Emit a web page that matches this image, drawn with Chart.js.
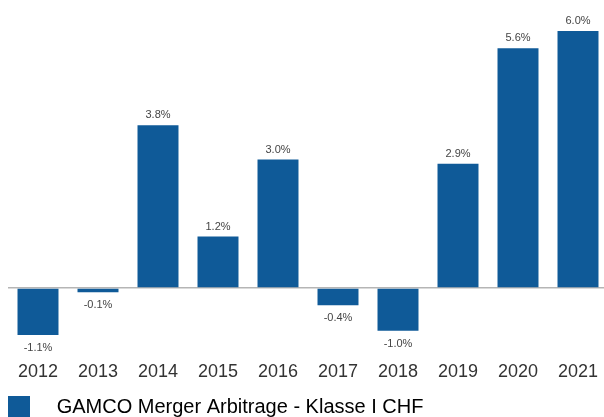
<!DOCTYPE html>
<html>
<head>
<meta charset="utf-8">
<script src="https://cdn.jsdelivr.net/npm/chart.js@4/dist/chart.umd.min.js"></script>
<style>
    html, body { margin: 0; padding: 0; background: #fff; overflow: hidden; }
    #wrap { width: 608px; height: 428px; }
</style>
</head>
<body>
<div id="wrap"><canvas id="perfChart" width="608" height="428"></canvas></div>
<script>
// GAMCO Merger Arbitrage - yearly returns (in %)

const years = ['2012', '2013', '2014', '2015', '2016', '2017', '2018', '2019', '2020', '2021'];
const returns = [-1.1, -0.1, 3.8, 1.2, 3.0, -0.4, -1.0, 2.9, 5.6, 6.0];
const seriesLabel = 'GAMCO Merger Arbitrage - Klasse I CHF';

const barColor = '#0f5a98';

// Draws the value text above (or below) each bar
const valueLabels = {
    id: 'valueLabels',
    afterDatasetsDraw(chart) {
        const ctx = chart.ctx;
        const meta = chart.getDatasetMeta(0);
        ctx.save();
        ctx.font = '11px "Liberation Sans", Arial, sans-serif';
        ctx.fillStyle = '#444';
        ctx.textAlign = 'center';
        ctx.textBaseline = 'alphabetic';
        meta.data.forEach((bar, i) => {
            const v = returns[i];
            const text = v.toFixed(1) + '%';
            if (v >= 0) {
                ctx.fillText(text, bar.x, bar.y - 7);
            } else {
                ctx.fillText(text, bar.x, bar.y + 16);
            }
        });
        ctx.restore();
    }
};

const ctx = document.getElementById('perfChart').getContext('2d');
const perfChart = new Chart(ctx, {
    type: 'bar',
    data: {
        labels: years,
        datasets: [{
            label: seriesLabel,
            data: returns,
            backgroundColor: barColor,
            borderWidth: 0,
            categoryPercentage: 1,
            barPercentage: 0.683
        }]
    },
    options: {
        responsive: false,
        animation: false,
        layout: {
            padding: { top: 9.6, left: 0, right: 0, bottom: 0 }
        },
        plugins: {
            tooltip: { enabled: false },
            legend: {
                position: 'bottom',
                align: 'start',
                labels: {
                    boxWidth: 22,
                    boxHeight: 22,
                    padding: 8,
                    color: '#333',
                    font: { family: '"Liberation Sans", Arial, sans-serif', size: 20 },
                    generateLabels: function(chart) {
                        return [{
                            text: '   ' + seriesLabel,
                            fillStyle: barColor,
                            strokeStyle: barColor,
                            lineWidth: 0,
                            datasetIndex: 0
                        }];
                    }
                }
            }
        },
        scales: {
            x: {
                grid: { display: false, drawTicks: false },
                border: { display: false },
                ticks: {
                    padding: 9,
                    color: '#333',
                    font: { family: '"Liberation Sans", Arial, sans-serif', size: 18 }
                },
                afterFit: function(scale) {
                    scale.height = 35.75;
                }
            },
            y: {
                min: -1.5,
                max: 6.5,
                z: 1,
                border: { display: false },
                ticks: { display: false, stepSize: 0.5 },
                grid: {
                    drawTicks: false,
                    lineWidth: 1.5,
                    color: function(c) {
                        return c.tick && c.tick.value === 0 ? '#b5b5b5' : 'rgba(0,0,0,0)';
                    }
                },
                afterFit: function(scale) {
                    scale.width = 8;
                }
            }
        }
    },
    plugins: [valueLabels]
});
</script>
</body>
</html>
